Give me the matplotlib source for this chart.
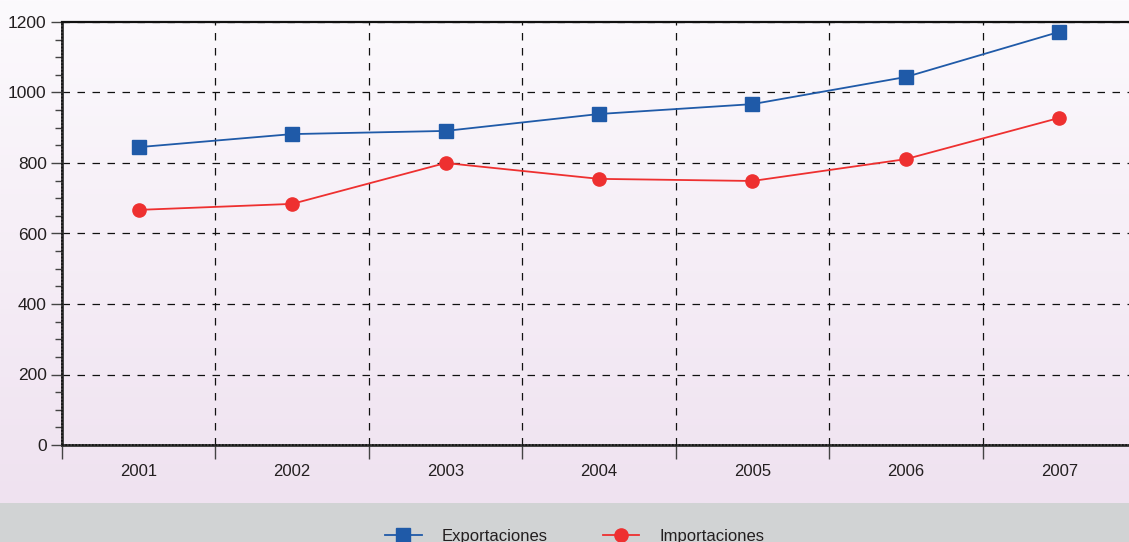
import matplotlib
matplotlib.use("Agg")
import matplotlib.pyplot as plt
import numpy as np
from matplotlib.colors import LinearSegmentedColormap
from matplotlib.ticker import MultipleLocator, FixedLocator, NullFormatter

years = ["2001", "2002", "2003", "2004", "2005", "2006", "2007"]
exportaciones = [845, 882, 891, 939, 967, 1044, 1172]
importaciones = [667, 684, 800, 755, 749, 811, 928]
y_ticks = [0, 200, 400, 600, 800, 1000, 1200]

plt.rcParams['font.family'] = ['Liberation Sans', 'DejaVu Sans']

W, H = 1129, 542
fig = plt.figure(figsize=(W / 100, H / 100), dpi=100)

# background gradient
bg = fig.add_axes([0, 39 / H, 1, 1 - 39 / H])
cmap = LinearSegmentedColormap.from_list("bg", ["#fcfafd", "#efe2f0"])
grad = np.linspace(0, 1, 256).reshape(-1, 1)
bg.imshow(grad, aspect="auto", cmap=cmap, extent=[0, 1, 0, 1], origin="upper")
bg.axis("off")
# gray band
band = fig.add_axes([0, 0, 1, 39 / H])
band.set_facecolor("#d1d3d4")
band.set_xticks([]); band.set_yticks([])
for s in band.spines.values():
    s.set_visible(False)

ax = fig.add_axes([62 / W, 97 / H, 1074 / W, 423 / H])
ax.patch.set_alpha(0)
x = np.arange(len(years))
ax.plot(x, exportaciones, color="#1f5aa8", lw=1.3, marker="s", ms=10,
        label="Exportaciones", zorder=5)
ax.plot(x, importaciones, color="#ee3030", lw=1.3, marker="o", ms=9.5,
        label="Importaciones", zorder=5)

ax.set_xlim(-0.5, len(years) - 0.5)
ax.set_ylim(0, 1200)
ax.set_yticks(y_ticks)
ax.yaxis.set_minor_locator(MultipleLocator(50))
ax.tick_params(axis="y", which="major", length=8, width=1, color="#444444",
               labelsize=12.5, labelcolor="#231f20", pad=3)
ax.tick_params(axis="y", which="minor", length=5, width=1, color="#444444")

bounds = np.arange(len(years) + 1) - 0.5
ax.xaxis.set_major_locator(FixedLocator(bounds))
ax.xaxis.set_major_formatter(NullFormatter())
ax.xaxis.set_minor_locator(FixedLocator(x))
ax.set_xticks(x, years, minor=True)
ax.tick_params(axis="x", which="major", direction="out", length=10, width=1,
               color="#444444")
ax.tick_params(axis="x", which="minor", length=0, labelsize=12,
               labelcolor="#231f20", pad=14)

ax.grid(True, which="major", axis="both", color="#111111", lw=0.9,
        linestyle=(0, (6, 6)))

for side in ["left", "bottom"]:
    ax.spines[side].set_color("#333333")
    ax.spines[side].set_linewidth(2)
ax.spines["top"].set_linestyle((0, (1, 1)))
ax.spines["top"].set_color("#111111")
ax.spines["top"].set_linewidth(1.6)
ax.spines["right"].set_visible(False)
# dotted overlay on left and bottom
ax.plot([-0.5, -0.5], [0, 1200], color="#111111", lw=1.2, ls=(0, (1, 1)),
        clip_on=False, zorder=6)
ax.plot([-0.5, len(years) - 0.5], [0, 0], color="#111111", lw=1.2,
        ls=(0, (1, 1)), clip_on=False, zorder=6)

leg = fig.legend(loc="center", bbox_to_anchor=(0.5 + 10 / W, 6 / H), ncol=2,
                 frameon=False, fontsize=12, handlelength=2.2,
                 columnspacing=3.3, handletextpad=1.2, labelcolor="#231f20")

fig.savefig("out.png", dpi=100)
